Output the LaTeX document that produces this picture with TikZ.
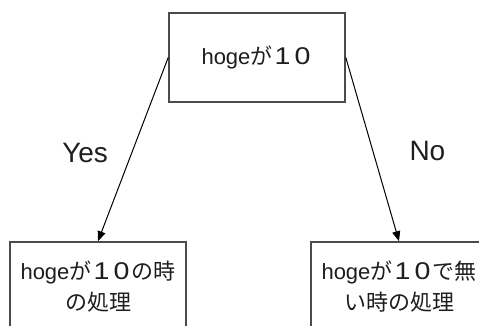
\documentclass[tikz,border=0pt]{standalone}
\usepackage{fontspec}
\usepackage{graphicx}
\setmainfont{Liberation Sans}
\newfontfamily\jpfont{Noto Sans CJK JP}
\usetikzlibrary{arrows.meta}
\newcommand\J[1]{{\jpfont #1}}
\newcommand\dg[1]{\makebox[20pt]{\scalebox{1.3}[1.1]{#1}}}
\definecolor{boxline}{RGB}{75,75,75}
\definecolor{txt}{RGB}{30,30,30}
\tikzset{
  box/.style={draw=boxline, line width=1.6pt, minimum width=176pt, minimum height=89pt,
    inner sep=0pt, align=center, text=txt, font=\fontsize{22}{31}\selectfont},
  arr/.style={draw=black, line width=1pt, -{Triangle[length=10pt,width=8pt]}},
  lbl/.style={text=txt, font=\fontsize{28}{30}\selectfont, inner sep=0pt}
}
\begin{document}
\begin{tikzpicture}[x=1pt,y=-1pt]
\useasboundingbox (0,0) rectangle (479,325);
\node[box] (top) at (257,57.5) {hoge\J{が}\dg{1}\dg{0}};
\node[box] (left) at (98,286.5) {hoge\J{が}\dg{1}\dg{0}\J{の時}\\\J{の処理}};
\node[box] (right) at (399,286.5) {hoge\J{が}\dg{1}\dg{0}\J{で無}\\\J{い時の処理}};
\draw[arr] (top.west) -- node[lbl, xshift=-48pt, yshift=-4pt] (yes) {Yes} (left.north);
\draw[arr] (top.east) -- node[lbl, xshift=55pt, yshift=-2pt] (no) {No} (right.north);
\end{tikzpicture}
\end{document}
